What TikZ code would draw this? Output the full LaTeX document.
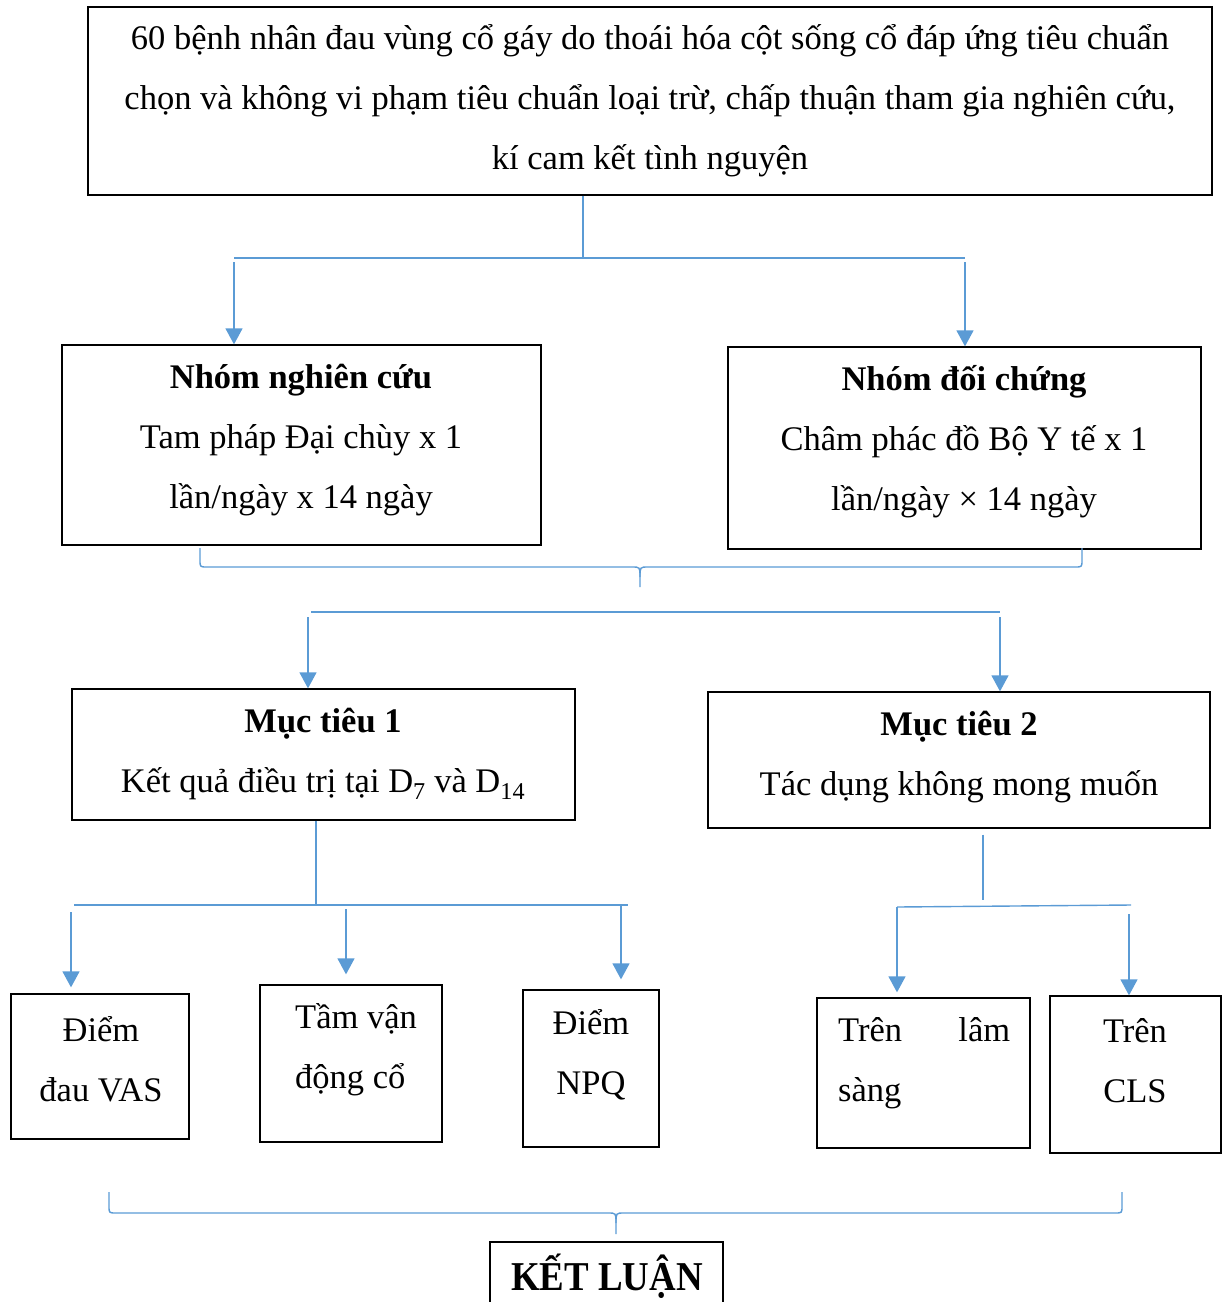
\documentclass[tikz,border=0pt]{standalone}
\usepackage{fontspec}
\setmainfont{Liberation Serif}
\usetikzlibrary{arrows.meta}

\definecolor{linkblue}{RGB}{91,155,213}

\tikzset{
  box/.style={draw=black, line width=1.3pt, inner sep=0pt},
  txt/.style={inner sep=0pt, font=\fontsize{34.5}{60}\selectfont},
  link/.style={draw=linkblue, line width=1.4pt},
  arr/.style={link, -{Triangle[width=17pt,length=16pt]}}
}

\begin{document}
\begin{tikzpicture}[x=1pt, y=-1pt]
  \useasboundingbox (0,0) rectangle (1222,1302);
  \clip (0,0) rectangle (1222,1302);
  % Draw boxes
  \node[box, minimum width=1124pt, minimum height=188pt] (top) at (650,101) {};
  \node[box, minimum width=479pt, minimum height=200pt] (nnc) at (301.5,445) {};
  \node[box, minimum width=473pt, minimum height=202pt] (ndc) at (964.5,448) {};
  \node[box, minimum width=503pt, minimum height=131pt] (mt1) at (323.5,754.5) {};
  \node[box, minimum width=502pt, minimum height=136pt] (mt2) at (959,760) {};
  \node[box, minimum width=178pt, minimum height=145pt] (vas) at (100,1066.5) {};
  \node[box, minimum width=182pt, minimum height=157pt] (tvd) at (351,1063.5) {};
  \node[box, minimum width=136pt, minimum height=157pt] (npq) at (591,1068.5) {};
  \node[box, minimum width=213pt, minimum height=150pt] (ls) at (923.5,1073) {};
  \node[box, minimum width=171pt, minimum height=157pt] (cls) at (1135.5,1074.5) {};
  \node[box, minimum width=233pt, minimum height=80pt] (kl) at (606.5,1282) {};
  % Add texts
  \node[txt, align=center] (top-t) at (650,101) {60 bệnh nhân đau vùng cổ gáy do thoái hóa cột sống cổ đáp ứng tiêu chuẩn\\chọn và không vi phạm tiêu chuẩn loại trừ, chấp thuận tham gia nghiên cứu,\\kí cam kết tình nguyện};
  \node[txt, align=center] (nnc-t) at (301,440) {\textbf{Nhóm nghiên cứu}\\Tam pháp Đại chùy x 1\\lần/ngày x 14 ngày};
  \node[txt, align=center] (ndc-t) at (964,442) {\textbf{Nhóm đối chứng}\\Châm phác đồ Bộ Y tế x 1\\lần/ngày × 14 ngày};
  \node[txt, align=center] (mt1-t) at (323,754) {\textbf{Mục tiêu 1}\\Kết quả điều trị tại D\textsubscript{7} và D\textsubscript{14}};
  \node[txt, align=center] (mt2-t) at (959,757) {\textbf{Mục tiêu 2}\\Tác dụng không mong muốn};
  \node[txt, align=center] (vas-t) at (101,1059) {Điểm\\đau VAS};
  \node[txt, align=left, anchor=west] (tvd-t) at (295,1050) {Tầm vận\\động cổ};
  \node[txt, align=center] (npq-t) at (591,1055) {Điểm\\NPQ};
  \node[txt, align=left, anchor=west, text width=172pt] (ls-t) at (838,1063) {Trên\hfill lâm\\sàng};
  \node[txt, align=center] (cls-t) at (1135,1061) {Trên\\CLS};
  \node[inner sep=0pt, xscale=0.9, font=\fontsize{41}{44}\selectfont\bfseries] (kl-t) at (607,1276) {KẾT LUẬN};
  % Split below the top box
  \coordinate (s1) at (583,258);
  \coordinate (s1l) at (234,258);
  \coordinate (s1r) at (965,258);
  \draw[link] (top.south -| s1) -- (s1);
  \draw[link] (s1l) -- (s1r);
  \draw[arr] ([yshift=-4pt]s1l) -- (s1l |- nnc.north);
  \draw[arr] ([yshift=-4pt]s1r) -- (s1r |- ndc.north);
  % Brace under both groups
  \draw[link] (200,548) -- (200,560) .. controls (200,567) .. (207,567) -- (632,567)
    .. controls (640,567) .. (640,577) -- (640,587);
  \draw[link] (640,577) .. controls (640,567) .. (648,567) -- (1075,567)
    .. controls (1082,567) .. (1082,560) -- (1082,548);
  % Split to the aims
  \coordinate (s2l) at (308,612);
  \coordinate (s2r) at (1000,612);
  \draw[link] (311,612) -- (s2r);
  \draw[arr] ([yshift=-5pt]s2l) -- (s2l |- mt1.north);
  \draw[arr] ([yshift=-5pt]s2r) -- (s2r |- mt2.north);
  % Split below aim 1
  \coordinate (s3) at (316,905);
  \coordinate (s3a) at (71,905);
  \coordinate (s3b) at (346,905);
  \coordinate (s3c) at (621,905);
  \draw[link] (mt1.south -| s3) -- (s3);
  \draw[link] (74,905) -- (628,905);
  \draw[arr, shorten >=6pt] ([yshift=-7pt]s3a) -- (s3a |- vas.north);
  \draw[arr, shorten >=10pt] ([yshift=-4pt]s3b) -- (s3b |- tvd.north);
  \draw[arr, shorten >=10pt] (s3c) -- (s3c |- npq.north);
  % Split below aim 2
  \coordinate (s4) at (983,906);
  \coordinate (s4a) at (897,907);
  \coordinate (s4b) at (1129,905);
  \draw[link] ([yshift=-6pt]mt2.south -| s4) -- ([yshift=6pt]s4);
  \draw[link] (s4a) -- (1131,905);
  \draw[arr, shorten >=5pt] (s4a) -- (s4a |- ls.north);
  \draw[arr] ([yshift=-9pt]s4b) -- (s4b |- cls.north);
  % Brace above the conclusion
  \draw[link] (109,1192) -- (109,1206) .. controls (109,1213) .. (116,1213) -- (608,1213)
    .. controls (616,1213) .. (616,1223) -- (616,1234);
  \draw[link] (616,1223) .. controls (616,1213) .. (624,1213) -- (1115,1213)
    .. controls (1122,1213) .. (1122,1206) -- (1122,1192);
\end{tikzpicture}
\end{document}
